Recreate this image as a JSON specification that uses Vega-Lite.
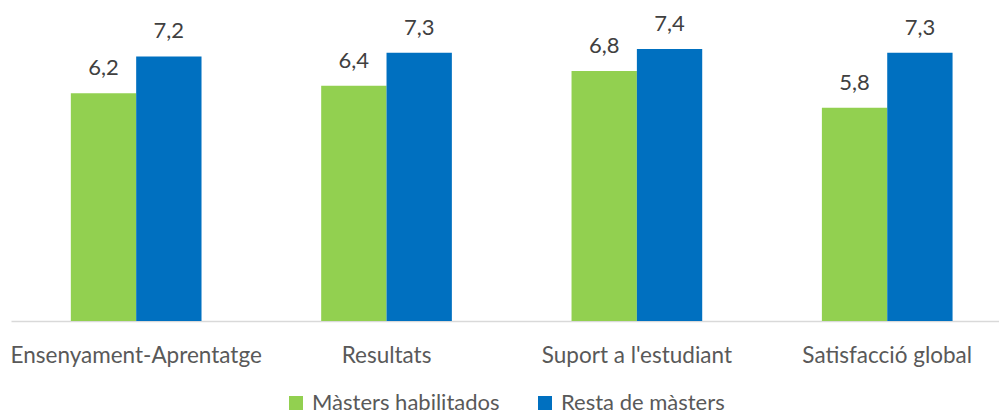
{
  "$schema": "https://vega.github.io/schema/vega-lite/v6.json",
  "autosize": {"type": "none"},
  "padding": {"top": 27, "left": 11, "right": 0, "bottom": 93},
  "width": 988,
  "height": 294,
  "background": "white",
  "config": {
    "view": {"stroke": null},
    "locale": {"number": {"decimal": ",", "thousands": ".", "grouping": [3], "currency": ["", " €"]}},
    "font": "Lato",
    "legend": {"layout": {"bottom": {"anchor": "middle"}}}
  },
  "data": {
    "values": [
      {"cat": "Ensenyament-Aprentatge", "serie": "Màsters habilitados", "valor": 6.2},
      {"cat": "Ensenyament-Aprentatge", "serie": "Resta de màsters", "valor": 7.2},
      {"cat": "Resultats", "serie": "Màsters habilitados", "valor": 6.4},
      {"cat": "Resultats", "serie": "Resta de màsters", "valor": 7.3},
      {"cat": "Suport a l'estudiant", "serie": "Màsters habilitados", "valor": 6.8},
      {"cat": "Suport a l'estudiant", "serie": "Resta de màsters", "valor": 7.4},
      {"cat": "Satisfacció global", "serie": "Màsters habilitados", "valor": 5.8},
      {"cat": "Satisfacció global", "serie": "Resta de màsters", "valor": 7.3}
    ]
  },
  "encoding": {
    "x": {
      "field": "cat",
      "type": "nominal",
      "sort": ["Ensenyament-Aprentatge", "Resultats", "Suport a l'estudiant", "Satisfacció global"],
      "scale": {"range": [0, 1001.4], "paddingInner": 0.478, "paddingOuter": 0.239},
      "axis": {
        "title": null,
        "labelAngle": 0,
        "ticks": false,
        "domainColor": "#D9D9D9",
        "domainWidth": 1.5,
        "labelFont": "Lato",
        "labelFontSize": 22.5,
        "labelLimit": 400,
        "labelColor": "#595959",
        "labelBaseline": "alphabetic",
        "labelPadding": 41
      }
    },
    "xOffset": {
      "field": "serie",
      "type": "nominal",
      "sort": ["Màsters habilitados", "Resta de màsters"],
      "scale": {"paddingInner": 0, "paddingOuter": 0}
    },
    "y": {
      "field": "valor",
      "type": "quantitative",
      "scale": {"domain": [0, 8], "nice": false},
      "axis": null
    }
  },
  "layer": [
    {
      "mark": {"type": "bar"},
      "encoding": {
        "color": {
          "field": "serie",
          "type": "nominal",
          "sort": ["Màsters habilitados", "Resta de màsters"],
          "scale": {"domain": ["Màsters habilitados", "Resta de màsters"], "range": ["#92D050", "#0070C0"]},
          "legend": {
            "title": null,
            "orient": "bottom",
            "direction": "horizontal",
            "symbolType": "square",
            "symbolSize": 196,
            "symbolStrokeWidth": 0,
            "symbolOpacity": 1,
            "labelFont": "Lato",
            "labelFontSize": 22,
            "labelLimit": 400,
            "labelColor": "#595959",
            "labelOffset": 5,
            "columnPadding": 34,
            "offset": 25
          }
        }
      }
    },
    {
      "mark": {"type": "text", "baseline": "alphabetic", "dy": -18, "font": "Lato", "fontSize": 22, "color": "#404040"},
      "encoding": {
        "text": {"field": "valor", "type": "quantitative", "format": ".1f"}
      }
    }
  ]
}
